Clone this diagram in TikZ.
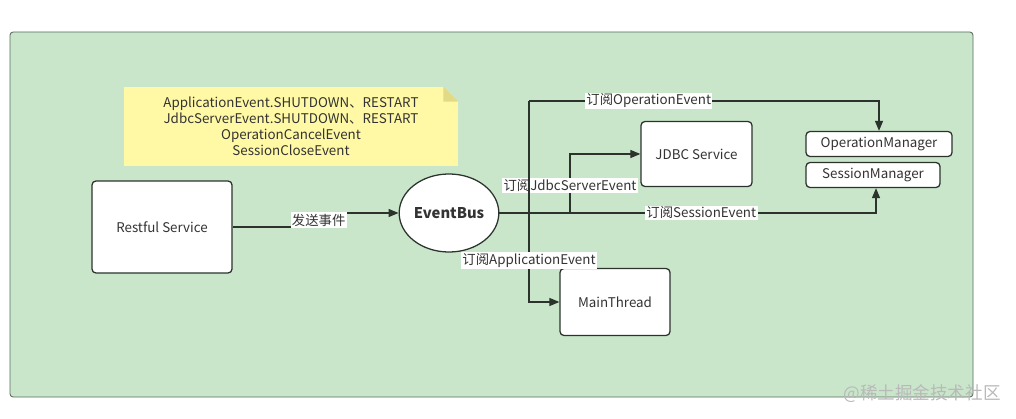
\documentclass[tikz,border=0pt]{standalone}
\usepackage{fontspec}
\setmainfont{Noto Sans CJK SC}
\usetikzlibrary{arrows.meta,positioning,shapes.geometric}
\definecolor{bggreen}{HTML}{C9E6CB}
\definecolor{framegray}{HTML}{5A6A5C}
\definecolor{linegray}{HTML}{2B332C}
\definecolor{textgray}{HTML}{333333}
\definecolor{notefill}{HTML}{FFF9A6}
\definecolor{notefold}{HTML}{E3DA86}
\newcommand{\dfont}{\fontsize{9.5}{11.4}\selectfont}

\begin{document}
\begin{tikzpicture}[x=0.025cm,y=-0.025cm,>={Triangle[length=0.25cm,width=0.2cm]},
box/.style={draw=linegray,fill=white,line width=0.9pt,rounded corners=0.1cm,align=center,font=\dfont,text=textgray,inner sep=0pt},
lbl/.style={fill=white,inner sep=1pt,font=\dfont,text=textgray},
conn/.style={draw=linegray,line width=0.9pt,->}]
\useasboundingbox (0,0) rectangle (1016,419);
% background panel
\draw[framegray,fill=bggreen,line width=0.6pt,rounded corners=0.08cm] (10,32) rectangle (973,397);
% note
\node[fill=notefill,minimum width=8.35cm,minimum height=1.975cm,align=center,font=\dfont,text=textgray,inner sep=0pt] (note) at (291,126.5)
{ApplicationEvent.SHUTDOWN、RESTART\\JdbcServerEvent.SHUTDOWN、RESTART\\OperationCancelEvent\\SessionCloseEvent};
\fill[bggreen] (note.north east) -- ++(-15,0) -- ++(15,15) -- cycle;
\fill[notefold] ([xshift=-0.375cm]note.north east) -- ++(0,15) -- ++(15,0) -- cycle;
% nodes
\node[box,minimum width=3.5cm,minimum height=2.3cm] (rest) at (162,227) {Restful Service};
\node[box,ellipse,minimum width=2.45cm,minimum height=1.95cm,font=\fontsize{10.5}{12}\selectfont\bfseries,rounded corners=0pt] (bus) at (449,213) {EventBus};
\node[box,minimum width=2.775cm,minimum height=1.625cm] (jdbc) at (696.5,154) {JDBC Service};
\node[box,minimum width=3.65cm,minimum height=0.625cm] (opm) at (879,144) {OperationManager};
\node[box,minimum width=3.35cm,minimum height=0.625cm] (sess) at (873,175) {SessionManager};
\node[box,minimum width=2.75cm,minimum height=1.675cm] (main) at (615,302) {MainThread};
\coordinate (top) at (529,101);
\coordinate (fork) at (570,213);
% connectors
\draw[conn] (rest.east) -- ++(86,0) |- node[pos=0.25,lbl]{发送事件} (bus.west);
\draw[conn] (bus.east) -| node[pos=0.268,lbl]{订阅SessionEvent} ([xshift=0.075cm]sess.south);
\draw[conn] (fork) |- node[pos=0.23,lbl]{订阅JdbcServerEvent} (jdbc.west);
\draw[conn] (top) -| node[pos=0.171,lbl]{订阅OperationEvent} (opm.north);
\draw[conn] (top) |- node[pos=0.396,lbl]{订阅ApplicationEvent} (main.west);
% watermark
\node[text=gray!55,font=\fontsize{12.5}{14}\selectfont,inner sep=0pt] (mark) at (922,394) {@稀土掘金技术社区};
\end{tikzpicture}
\end{document}
